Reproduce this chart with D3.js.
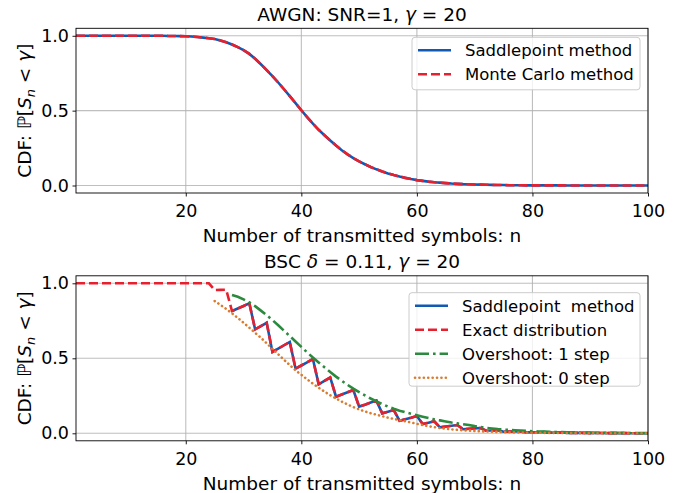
<!DOCTYPE html>
<html>
<head>
<meta charset="utf-8">
<script src="https://cdn.jsdelivr.net/npm/d3@7"></script>
<style>
  body { margin: 0; background: #fff; }
  svg text { font-family: "DejaVu Sans", sans-serif; fill: #000; white-space: pre; }
</style>
</head>
<body>
<div id="chart"></div>
<script>
var width = 686,
    height = 493;

// n = 1..100
var nValues = d3.range(1, 101);

// --- AWGN panel (SNR=1, gamma=20) ---
var awgnSaddle = [
  1, 1, 1, 1, 1, 1, 1, 1, 1, 1,
  1, 1, 1, 1, 1, 1, 0.999, 0.999, 0.998, 0.997,
  0.995, 0.992, 0.988, 0.984, 0.978, 0.969, 0.957, 0.942, 0.924, 0.904,
  0.879, 0.847, 0.81, 0.771, 0.731, 0.688, 0.643, 0.597, 0.55, 0.503,
  0.457, 0.413, 0.372, 0.336, 0.301, 0.267, 0.236, 0.208, 0.183, 0.161,
  0.142, 0.124, 0.108, 0.094, 0.081, 0.07, 0.06, 0.051, 0.043, 0.036,
  0.031, 0.026, 0.022, 0.019, 0.016, 0.013, 0.011, 0.009, 0.008, 0.007,
  0.006, 0.005, 0.004, 0.003, 0.003, 0.002, 0.002, 0.002, 0.001, 0.001,
  0.001, 0.001, 0.001, 0.001, 0.001, 0, 0, 0, 0, 0,
  0, 0, 0, 0, 0, 0, 0, 0, 0, 0
];
var awgnMonteCarlo = [
  1, 1, 1, 1, 1, 1, 1, 1, 1, 1,
  1, 1, 1, 1, 1, 1, 0.999, 0.999, 0.998, 0.997,
  0.995, 0.992, 0.988, 0.984, 0.978, 0.969, 0.957, 0.942, 0.924, 0.904,
  0.879, 0.847, 0.81, 0.771, 0.731, 0.688, 0.643, 0.597, 0.55, 0.503,
  0.457, 0.413, 0.372, 0.336, 0.301, 0.267, 0.236, 0.208, 0.183, 0.161,
  0.142, 0.124, 0.108, 0.094, 0.081, 0.07, 0.06, 0.051, 0.043, 0.036,
  0.031, 0.026, 0.022, 0.019, 0.016, 0.013, 0.011, 0.009, 0.008, 0.007,
  0.006, 0.005, 0.004, 0.003, 0.003, 0.002, 0.002, 0.002, 0.001, 0.001,
  0.001, 0.001, 0.001, 0.001, 0.001, 0, 0, 0, 0, 0,
  0, 0, 0, 0, 0, 0, 0, 0, 0, 0
];

// --- BSC panel (delta=0.11, gamma=20) ---  null = not plotted
var bscSaddle = [
  null, null, null, null, null, null, null, null, null, null,
  null, null, null, null, null, null, null, null, null, null,
  null, null, null, null, null, null, null, 0.815, 0.832, 0.849,
  0.867, 0.693, 0.715, 0.737, 0.542, 0.564, 0.587, 0.609, 0.431, 0.452,
  0.473, 0.495, 0.327, 0.35, 0.372, 0.244, 0.259, 0.274, 0.289, 0.178,
  0.191, 0.205, 0.218, 0.133, 0.144, 0.155, 0.084, 0.094, 0.104, 0.115,
  0.062, 0.071, 0.08, 0.04, 0.045, 0.05, 0.055, 0.027, 0.03, 0.033,
  0.035, 0.017, 0.019, 0.021, 0.01, 0.011, 0.012, 0.013, 0.006, 0.007,
  0.0075, 0.008, 0.004, 0.0045, 0.005, 0.0025, 0.0028, 0.003, 0.0032, 0.0015,
  0.0017, 0.0018, 0.0009, 0.001, 0.0011, 0.0012, 0.0005, 0.0006, 0.0006, 0.0007
];
var bscExact = [
  1, 1, 1, 1, 1, 1, 1, 1, 1, 1,
  1, 1, 1, 1, 1, 1, 1, 1, 1, 1,
  1, 1, 1, 1, 0.955, 0.956, 0.957, 0.815, 0.832, 0.849,
  0.867, 0.693, 0.715, 0.737, 0.542, 0.564, 0.587, 0.609, 0.431, 0.452,
  0.473, 0.495, 0.327, 0.35, 0.372, 0.244, 0.259, 0.274, 0.289, 0.178,
  0.191, 0.205, 0.218, 0.133, 0.144, 0.155, 0.084, 0.094, 0.104, 0.115,
  0.062, 0.071, 0.08, 0.04, 0.045, 0.05, 0.055, 0.027, 0.03, 0.033,
  0.035, 0.017, 0.019, 0.021, 0.01, 0.011, 0.012, 0.013, 0.006, 0.007,
  0.0075, 0.008, 0.004, 0.0045, 0.005, 0.0025, 0.0028, 0.003, 0.0032, 0.0015,
  0.0017, 0.0018, 0.0009, 0.001, 0.0011, 0.0012, 0.0005, 0.0006, 0.0006, 0.0007
];
var bscOvershoot1 = [
  null, null, null, null, null, null, null, null, null, null,
  null, null, null, null, null, null, null, null, null, null,
  null, null, null, null, null, null, null, 0.922, 0.91, 0.893,
  0.873, 0.848, 0.818, 0.787, 0.755, 0.72, 0.684, 0.648, 0.612, 0.576,
  0.54, 0.505, 0.472, 0.44, 0.408, 0.378, 0.35, 0.323, 0.298, 0.275,
  0.253, 0.232, 0.213, 0.195, 0.178, 0.164, 0.151, 0.14, 0.13, 0.12,
  0.111, 0.102, 0.093, 0.086, 0.079, 0.072, 0.066, 0.06, 0.055, 0.048,
  0.042, 0.036, 0.032, 0.028, 0.025, 0.022, 0.02, 0.018, 0.016, 0.014,
  0.012, 0.011, 0.01, 0.009, 0.008, 0.007, 0.006, 0.0055, 0.005, 0.0045,
  0.004, 0.0035, 0.003, 0.0027, 0.0024, 0.0021, 0.0018, 0.0016, 0.0014, 0.0012
];
var bscOvershoot0 = [
  null, null, null, null, null, null, null, null, null, null,
  null, null, null, null, null, null, null, null, null, null,
  null, null, null, null, 0.882, 0.856, 0.829, 0.8, 0.769, 0.737,
  0.704, 0.67, 0.637, 0.6, 0.563, 0.527, 0.49, 0.455, 0.42, 0.39,
  0.36, 0.331, 0.304, 0.278, 0.254, 0.232, 0.211, 0.192, 0.175, 0.159,
  0.146, 0.134, 0.124, 0.114, 0.104, 0.096, 0.088, 0.08, 0.072, 0.063,
  0.055, 0.047, 0.041, 0.035, 0.03, 0.026, 0.023, 0.02, 0.018, 0.016,
  0.014, 0.012, 0.011, 0.009, 0.008, 0.007, 0.006, 0.0052, 0.0045, 0.004,
  0.0035, 0.003, 0.0026, 0.0022, 0.0019, 0.0016, 0.0014, 0.0012, 0.001, 0.0009,
  0.0008, 0.0007, 0.0006, 0.0005, 0.0005, 0.0004, 0.0004, 0.0003, 0.0003, 0.0003
];

var xTicks = [20, 40, 60, 80, 100];
var yTicks = [0, 0.5, 1.0];

var blue = "#1059b4",
    red = "#e8202e",
    green = "#2b8a3e",
    orange = "#dc7b2e";

var svg = d3.select("#chart")
    .append("svg")
    .attr("width", width)
    .attr("height", height);

var left = 76, right = 648;

var x = d3.scaleLinear().domain([1, 100]).range([left, right]);

var line = function(y) {
  return d3.line()
    .defined(function(d) { return d != null; })
    .x(function(d, i) { return x(nValues[i]); })
    .y(function(d) { return y(d); });
};

function drawPanel(top, bottom, titleParts, series, legendBox) {
  var y = d3.scaleLinear().domain([-0.05, 1.05]).range([bottom, top]);
  var g = svg.append("g");

  // grid
  g.append("g").selectAll("line").data(xTicks).enter().append("line")
    .attr("x1", function(d) { return x(d); }).attr("x2", function(d) { return x(d); })
    .attr("y1", top).attr("y2", bottom)
    .attr("stroke", "#b0b0b0").attr("stroke-width", 1.1).attr("opacity", 0.8);
  g.append("g").selectAll("line").data(yTicks).enter().append("line")
    .attr("y1", function(d) { return y(d); }).attr("y2", function(d) { return y(d); })
    .attr("x1", left).attr("x2", right)
    .attr("stroke", "#b0b0b0").attr("stroke-width", 1.1).attr("opacity", 0.8);

  // curves
  var clipId = "clip" + Math.round(top);
  svg.append("clipPath").attr("id", clipId).append("rect")
    .attr("x", left).attr("y", top).attr("width", right - left).attr("height", bottom - top);
  var curves = g.append("g").attr("clip-path", "url(#" + clipId + ")");
  series.forEach(function(s) {
    curves.append("path")
      .datum(s.values)
      .attr("d", line(y))
      .attr("fill", "none")
      .attr("stroke", s.color)
      .attr("stroke-width", 2.6)
      .attr("stroke-dasharray", s.dash)
      .attr("stroke-linecap", s.cap || "butt");
  });

  // axes
  var xa = g.append("g").attr("transform", "translate(0," + bottom + ")")
    .call(d3.axisBottom(x).tickValues(xTicks).tickSize(3.5).tickPadding(8).tickFormat(d3.format("d")));
  var ya = g.append("g").attr("transform", "translate(" + left + ",0)")
    .call(d3.axisLeft(y).tickValues(yTicks).tickSize(3.5).tickPadding(3.5).tickFormat(d3.format(".1f")));
  [xa, ya].forEach(function(a) {
    a.select(".domain").remove();
    a.selectAll("text").attr("font-size", 17.5).attr("font-family", "DejaVu Sans");
    a.selectAll("line").attr("stroke", "#000").attr("stroke-width", 0.9);
  });

  // frame
  g.append("rect").attr("x", left).attr("y", top)
    .attr("width", right - left).attr("height", bottom - top)
    .attr("fill", "none").attr("stroke", "#000").attr("stroke-width", 0.9);

  // title
  var t = g.append("text").attr("x", (left + right) / 2).attr("y", top - 7.6)
    .attr("text-anchor", "middle").attr("font-size", 18.5);
  titleParts.forEach(function(p) {
    t.append("tspan").text(p.t).attr("font-style", p.i ? "italic" : null);
  });

  // x label
  g.append("text").attr("x", (left + right) / 2).attr("y", bottom + 48.7)
    .attr("text-anchor", "middle").attr("font-size", 18.5)
    .text("Number of transmitted symbols: n");

  // y label
  var yl = g.append("text")
    .attr("transform", "translate(31," + ((top + bottom) / 2) + ") rotate(-90)")
    .attr("text-anchor", "middle").attr("font-size", 18.5);
  yl.append("tspan").text("CDF: ");
  yl.append("tspan").text("\u2119").attr("font-style", "italic");
  yl.append("tspan").text("[");
  yl.append("tspan").text("S").attr("font-style", "italic");
  yl.append("tspan").text("n").attr("font-style", "italic").attr("font-size", 13).attr("dy", 4);
  yl.append("tspan").text(" < ").attr("dy", -4);
  yl.append("tspan").text("\u03b3").attr("font-style", "italic");
  yl.append("tspan").text("]");

  // legend
  var lg = g.append("g");
  lg.append("rect")
    .attr("x", legendBox.x).attr("y", legendBox.y)
    .attr("width", legendBox.w).attr("height", legendBox.h)
    .attr("rx", 3).attr("fill", "#fff").attr("fill-opacity", 0.8)
    .attr("stroke", "#cccccc").attr("stroke-width", 1);
  series.filter(function(s) { return s.label; }).forEach(function(s, i) {
    var cy = legendBox.y + 13 + i * 24;
    lg.append("line")
      .attr("x1", legendBox.x + 6).attr("x2", legendBox.x + 39)
      .attr("y1", cy).attr("y2", cy)
      .attr("stroke", s.color).attr("stroke-width", 2.6)
      .attr("stroke-dasharray", s.dash)
      .attr("stroke-linecap", s.cap || "butt");
    lg.append("text")
      .attr("x", legendBox.x + 53).attr("y", cy + 6)
      .attr("font-size", 16.5)
      .text(s.label);
  });
}

drawPanel(28.3, 193,
  [{t: "AWGN: SNR=1, "}, {t: "\u03b3", i: true}, {t: " = 20"}],
  [
    {values: awgnSaddle, color: blue, dash: null, label: "Saddlepoint method"},
    {values: awgnMonteCarlo, color: red, dash: "9,4", label: "Monte Carlo method"}
  ],
  {x: 412, y: 37.3, w: 228, h: 52.5});

drawPanel(275.8, 440.8,
  [{t: "BSC "}, {t: "\u03b4", i: true}, {t: " = 0.11, "}, {t: "\u03b3", i: true}, {t: " = 20"}],
  [
    {values: bscSaddle, color: blue, dash: null, label: "Saddlepoint  method"},
    {values: bscExact, color: red, dash: "9,4", label: "Exact distribution"},
    {values: bscOvershoot1, color: green, dash: "14,4,2.6,4", label: "Overshoot: 1 step"},
    {values: bscOvershoot0, color: orange, dash: "0.1,4.3", cap: "round", label: "Overshoot: 0 step"}
  ],
  {x: 409, y: 292.7, w: 231, h: 93.5});
</script>
</body>
</html>
